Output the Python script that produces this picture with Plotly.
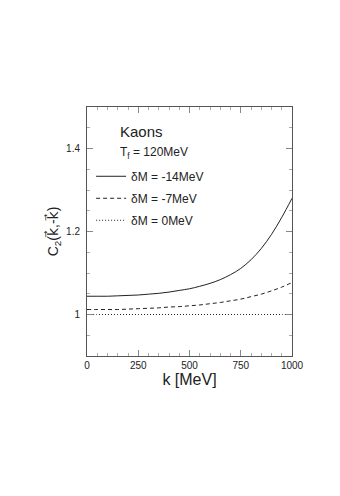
import plotly.graph_objects as go

k = [0, 50, 100, 150, 200, 250, 300, 350, 400, 450, 500,
     550, 600, 650, 700, 750, 800, 850, 900, 950, 1000]
c2_m14 = [1.044, 1.044, 1.044, 1.045, 1.046, 1.047, 1.049, 1.051, 1.054, 1.058, 1.062,
          1.068, 1.075, 1.084, 1.096, 1.111, 1.132, 1.159, 1.193, 1.234, 1.280]
c2_m7 = [1.012, 1.012, 1.012, 1.012, 1.013, 1.014, 1.015, 1.016, 1.018, 1.019, 1.021,
         1.023, 1.026, 1.029, 1.033, 1.037, 1.043, 1.049, 1.057, 1.066, 1.077]
c2_0 = [1.0] * len(k)

series = [
    ("δM = -14MeV", c2_m14, "solid"),
    ("δM = -7MeV", c2_m7, "4px,3px"),
    ("δM = 0MeV", c2_0, "1px,2px"),
]

fig = go.Figure()
for name, vals, dash in series:
    fig.add_trace(go.Scatter(x=k, y=vals, mode="lines", name=name, line_shape="spline",
                             legendgroup=name,
                             line=dict(color="#222", width=1, dash=dash)))

axis_common = dict(showline=True, linecolor="#555", linewidth=1, mirror="ticks",
                   ticks="inside", tickcolor="#888", showgrid=False, zeroline=False,
                   tickfont=dict(size=10, color="#222"))

vec_k = '<span style="font-family:DejaVu Sans">k\u20d7</span>'
fig.update_xaxes(range=[0, 1000], tickvals=[0, 250, 500, 750, 1000], ticklen=6,
                 minor=dict(dtick=50, ticklen=3, ticks="inside", tickcolor="#aaa"),
                 title=dict(text="k [MeV]", font=dict(size=16, color="#222"), standoff=2),
                 **axis_common)
fig.update_yaxes(range=[0.9, 1.5], tickvals=[1, 1.2, 1.4], ticklen=6,
                 minor=dict(tick0=0.9, dtick=0.05, ticklen=3, ticks="inside", tickcolor="#aaa"),
                 title=dict(text=f"C<sub>2</sub>({vec_k},-{vec_k})", font=dict(size=14, color="#222"), standoff=4),
                 ticklabelstandoff=4,
                 **axis_common)

fig.add_annotation(text="Kaons", xref="x domain", yref="y domain", x=0.15, y=0.9,
                   xanchor="left", yanchor="middle", showarrow=False,
                   font=dict(size=15, color="#222"))
fig.add_annotation(text="T<sub>f</sub> = 120MeV", xref="x domain", yref="y domain", x=0.15, y=0.815,
                   xanchor="left", yanchor="middle", showarrow=False,
                   font=dict(size=12, color="#222"))

# page body has an 8px margin, so the figure is offset by 8px
fig.update_layout(
    width=340, height=496,
    margin=dict(l=79, r=56, t=99, b=148),
    paper_bgcolor="white", plot_bgcolor="white",
    font=dict(family="Liberation Sans, Arial, sans-serif", color="#222"),
    showlegend=True,
    legend=dict(x=0.02, y=0.78, xanchor="left", yanchor="top",
                bgcolor="rgba(0,0,0,0)", font=dict(size=12, color="#222"),
                itemwidth=30, tracegroupgap=3),
)

fig.write_html("out.html")
